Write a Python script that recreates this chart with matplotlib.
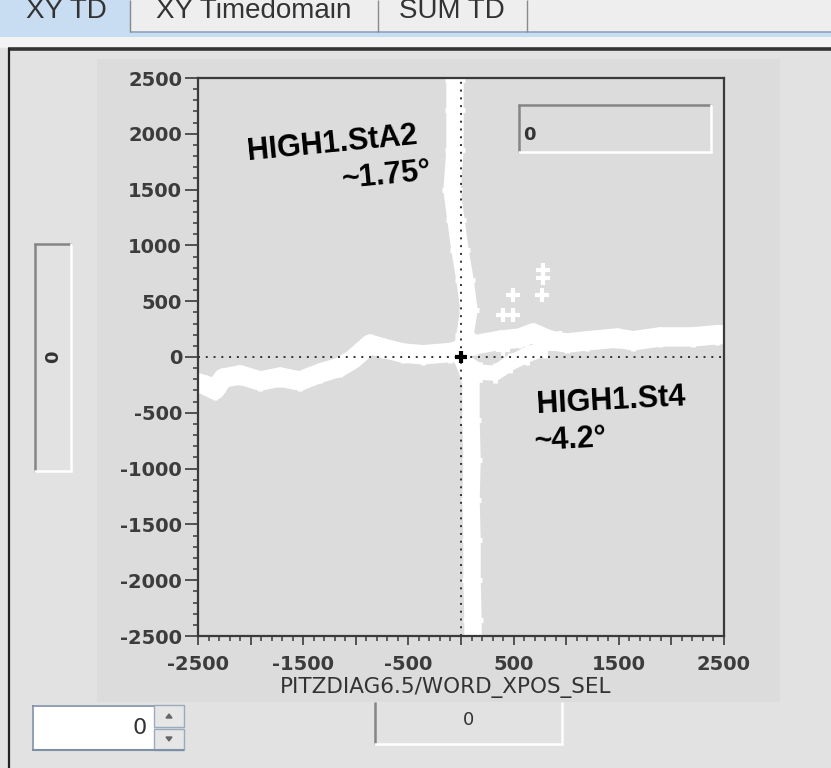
import numpy as np
import matplotlib.pyplot as plt
from matplotlib.patches import Rectangle, Polygon
from matplotlib.ticker import MultipleLocator, FuncFormatter

plt.rcParams['axes.unicode_minus'] = False

# --- trace data (x = XPOS, y = YPOS) ---
# HIGH1.St4 : horizontal scan
st4_x = [-2500, -2433, -2338, -2262, -2100, -1910, -1720, -1530, -1340, -1150,
         -1027, -865, -741, -551, -361, -105, 0, 133, 370, 560, 685, 845,
         1008, 1198, 1483, 1635, 1892, 2205, 2434, 2510]
st4_y = [-233, -250, -296, -190, -160, -215, -180, -215, -145, -90,
         -20, 115, 80, 35, 20, 40, 65, 110, 150, 170, 215, 150,
         125, 145, 170, 145, 180, 180, 200, 200]
# return leg of St4 right of the origin
st4_loop_x = [0, 38, 180, 323, 466, 627, 800]
st4_loop_y = [60, -45, -135, -145, -55, 20, 80]

# HIGH1.StA2 : vertical scan
sta2_x = [114, 114, 105, 105, 95, 105, 95, 95, 19, 10, 38, 76, 38, -10, -48, -85, -57, -57, -57, -57]
sta2_y = [-2536, -2357, -1998, -1640, -1281, -923, -565, -206, -27, 63, 197, 421, 690,
          959, 1228, 1496, 1855, 2213, 2482, 2560]

# stray readings
stray_x = [780, 780, 495, 770, 400, 495, 400, 940]
stray_y = [780, 708, 555, 555, 375, 375, 63, 170]

x_tick_labels = [-2500, -1500, -500, 500, 1500, 2500]

W, H = 831, 768
fig = plt.figure(figsize=(W / 100, H / 100), dpi=100)
fig.patch.set_facecolor('#e2e2e2')

# background widgets, pixel coordinates
bg = fig.add_axes([0, 0, 1, 1], zorder=0)
bg.set_xlim(0, W)
bg.set_ylim(H, 0)
bg.axis('off')


def rect(a, x0, y0, x1, y1, color, **kw):
    a.add_patch(Rectangle((x0, y0), x1 - x0, y1 - y0, facecolor=color,
                          edgecolor='none', **kw))


def hline(a, x0, x1, y, color, lw):
    a.plot([x0, x1], [y, y], color=color, lw=lw, solid_capstyle='butt')


def vline(a, x, y0, y1, color, lw):
    a.plot([x, x], [y0, y1], color=color, lw=lw, solid_capstyle='butt')


def sunken(a, x0, y0, x1, y1, face, dark='#858585', light='#ffffff'):
    rect(a, x0, y0, x1, y1, face)
    hline(a, x0, x1, y0 + 1, dark, 1.8)
    vline(a, x0 + 1, y0, y1, dark, 1.8)
    hline(a, x0, x1, y1 - 1, light, 1.8)
    vline(a, x1 - 1, y0, y1, light, 1.8)


# tab strip
rect(bg, 0, 0, W, 48, '#eeeeee')
rect(bg, 0, 0, 130, 37, '#c8dcf2')
rect(bg, 0, 32, W, 37, '#c8dcf2')
hline(bg, 130, W, 32, '#8fa3bf', 1.2)
for tx in [130, 378, 527]:
    vline(bg, tx, 0, 32, '#8a8a8a', 1.0)
rect(bg, 0, 37, W, 47, '#f3f3f3')
for label, cx in [('XY TD', 66), ('XY Timedomain', 254), ('SUM TD', 452)]:
    bg.text(cx, 18, label, ha='center', va='baseline', fontsize=20,
            family='Liberation Sans', color='#333333')

# frame
hline(bg, 8, W, 48.5, '#333333', 2.6)
vline(bg, 9, 48, H, '#222222', 1.6)

# plot panel
rect(bg, 97, 59, 780, 702, '#dcdcdc')

# spinner at the bottom left
rect(bg, 32, 705, 154, 750, '#ffffff')
hline(bg, 32, 154, 706, '#7d90a6', 1.2)
vline(bg, 33, 705, 750, '#7d90a6', 1.2)
hline(bg, 32, 184, 750, '#7d90a6', 1.5)
rect(bg, 154, 705, 184, 727, '#e6e6e6')
rect(bg, 154, 729, 184, 750, '#e6e6e6')
for y0, y1 in [(705, 727), (729, 750)]:
    bg.add_patch(Rectangle((154, y0), 30, y1 - y0, facecolor='none',
                           edgecolor='#9aabbd', lw=1.0))
bg.add_patch(Polygon([[166, 718], [172, 718], [169, 714]], color='#666666'))
bg.add_patch(Polygon([[166, 737], [172, 737], [169, 741]], color='#666666'))
bg.text(147, 728, '0', ha='right', va='center', fontsize=16,
        family='DejaVu Sans', color='#333333')

# value box under the x axis
rect(bg, 374, 702, 563, 745, '#e2e2e2')
vline(bg, 375, 702, 745, '#858585', 1.8)
hline(bg, 374, 563, 744, '#ffffff', 1.8)
vline(bg, 562, 702, 745, '#ffffff', 1.8)
bg.text(468, 720, '0', ha='center', va='center', fontsize=13,
        family='DejaVu Sans', color='#333333')

# vertical value box on the left
sunken(bg, 34, 243, 72, 472, '#e2e2e2')
bg.text(53, 357, '0', ha='center', va='center', rotation=90, fontsize=13,
        fontweight='bold', color='#333333')

# --- XY plot ---
ax = fig.add_axes([198 / W, 1 - 636 / H, 526 / W, 558 / H], zorder=1)
ax.set_facecolor('#dcdcdc')
ax.set_xlim(-2500, 2500)
ax.set_ylim(-2500, 2500)

band = dict(color='white', solid_joinstyle='round', solid_capstyle='butt',
            marker='+', markersize=15, markeredgewidth=3.5, zorder=2)
ax.plot(st4_x, st4_y, lw=14, **band)
ax.plot(st4_loop_x, st4_loop_y, lw=11, **band)
ax.plot(sta2_x, sta2_y, lw=12.5, **band)
ax.plot(stray_x, stray_y, ls='none', marker='+', color='white',
        markersize=10, markeredgewidth=3, zorder=2)

# crosshair through the origin
ax.axhline(0, color='#333333', lw=1.4, ls=(0, (1, 3)), zorder=3)
ax.axvline(0, color='#333333', lw=1.4, ls=(0, (1, 3)), zorder=3)
ax.plot([0], [0], marker='+', color='black', markersize=9,
        markeredgewidth=3, zorder=4)

for s in ax.spines.values():
    s.set_color('#3a3a3a')
    s.set_linewidth(1.6)

ax.xaxis.set_major_locator(MultipleLocator(500))
ax.xaxis.set_minor_locator(MultipleLocator(100))
ax.yaxis.set_major_locator(MultipleLocator(500))
ax.yaxis.set_minor_locator(MultipleLocator(100))
ax.xaxis.set_major_formatter(FuncFormatter(
    lambda v, p: '%d' % v if int(round(v)) in x_tick_labels else ''))
ax.yaxis.set_major_formatter(FuncFormatter(lambda v, p: '%d' % v))
ax.tick_params(axis='x', which='major', direction='out', length=6.5,
               width=1.2, color='#3a3a3a', pad=7)
ax.tick_params(axis='y', which='major', direction='out', length=9.5,
               width=1.2, color='#3a3a3a', pad=2)
ax.tick_params(which='minor', direction='out', length=3.6, width=1.1,
               color='#3a3a3a')
for t in ax.get_xticklabels() + ax.get_yticklabels():
    t.set_fontsize(14)
    t.set_fontweight('bold')
    t.set_color('#3c3c3c')

fig.text(446 / W, 1 - 688 / H, 'PITZDIAG6.5/WORD_XPOS_SEL', ha='center',
         va='center', fontsize=15.5, color='#333333')

# station labels
lab = dict(fontsize=22, fontweight='bold', family='Liberation Sans',
           color='black', rotation_mode='anchor', va='baseline', zorder=5)
ax.text(-2025, 1765, 'HIGH1.StA2', ha='left', rotation=5.5, **lab)
ax.text(-276, 1595, '~1.75°', ha='right', rotation=5.5, **lab)
ax.text(722, -502, 'HIGH1.St4', ha='left', rotation=3, **lab)
ax.text(703, -833, '~4.2°', ha='left', rotation=3, **lab)

# overlay widgets drawn above the plot
fg = fig.add_axes([0, 0, 1, 1], zorder=3)
fg.set_xlim(0, W)
fg.set_ylim(H, 0)
fg.axis('off')
fg.patch.set_alpha(0)
sunken(fg, 518, 104, 712, 153, '#dcdcdc')
fg.text(523, 135, '0', ha='left', va='center', fontsize=13,
        fontweight='bold', color='#333333')

fig.savefig('out.png', dpi=100)
